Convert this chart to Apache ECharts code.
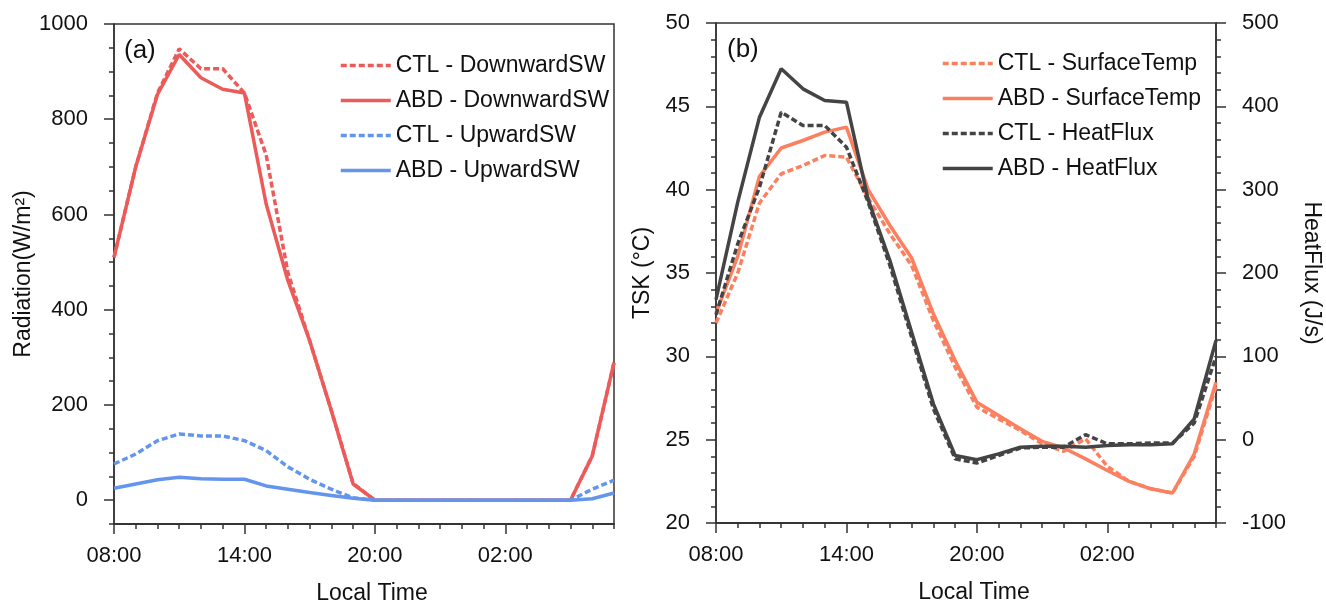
<!DOCTYPE html>
<html>
<head>
<meta charset="utf-8">
<script src="https://cdn.jsdelivr.net/npm/echarts@6/dist/echarts.min.js"></script>
<style>
html,body{margin:0;padding:0;background:#fff;}
#c{width:1326px;height:602px;}
</style>
</head>
<body>
<div id="c"></div>
<script>
// ---- data ----
var hours = ['08:00','09:00','10:00','11:00','12:00','13:00','14:00','15:00','16:00','17:00','18:00','19:00',
             '20:00','21:00','22:00','23:00','00:00','01:00','02:00','03:00','04:00','05:00','06:00','07:00'];
var radTicks = [0, 200, 400, 600, 800, 1000];

var ctlDown = [510, 700, 855, 948, 906, 906, 855, 725, 478, 335, 188, 35, 0, 0, 0, 0, 0, 0, 0, 0, 0, 0, 93, 289];
var abdDown = [510, 700, 852, 936, 887, 863, 855, 622, 461, 335, 188, 34, 0, 0, 0, 0, 0, 0, 0, 0, 0, 0, 93, 289];
var ctlUp   = [76, 97, 125, 139, 135, 135, 125, 104, 70, 44, 23, 5, 0, 0, 0, 0, 0, 0, 0, 0, 0, 0, 23, 42];
var abdUp   = [25, 34, 43, 48, 45, 44, 44, 30, 23, 16, 10, 4, 0, 0, 0, 0, 0, 0, 0, 0, 0, 0, 3, 15];

var ctlTsk = [32.0, 35.0, 39.2, 40.95, 41.45, 42.05, 41.95, 39.5, 37.35, 35.45, 32.15, 29.35,
              26.95, 26.25, 25.55, 24.75, 24.3, 25.05, 23.4, 22.5, 22.05, 21.8, 24.0, 28.2];
var abdTsk = [32.6, 36.0, 40.8, 42.5, 42.95, 43.45, 43.75, 40.0, 37.85, 35.9, 32.55, 29.75,
              27.25, 26.45, 25.65, 24.9, 24.5, 23.85, 23.15, 22.5, 22.05, 21.8, 24.15, 28.45];
var ctlHf  = [150, 235, 303, 393, 377, 377, 351, 285, 209, 123, 37, -23,
              -28, -19, -10, -9, -9, 6, -5, -5, -4, -4, 20, 100];
var abdHf  = [168, 285, 387, 445, 421, 407, 405, 288, 215, 129, 43, -19,
              -24, -17, -9, -8, -8, -9, -7, -6, -6, -5, 25, 119];

// ---- style ----
var FONT = '"Liberation Sans", Arial, sans-serif';
var AX = '#333';
var RED = '#EC5A5A', BLUE = '#6495ED', ORANGE = '#FB8060', DARK = '#444444';
var DASH = [6, 3];
function plain(v) { return String(v); }

function xMinor(grid) {
  return {
    type: 'category', gridIndex: grid, data: hours, boundaryGap: false, position: 'bottom',
    axisLine: {show: true, onZero: false, lineStyle: {color: AX, width: 1.5}},
    axisTick: {show: true, interval: 0, length: 5, lineStyle: {color: AX, width: 1.5}},
    axisLabel: {show: false}, splitLine: {show: false}
  };
}
function xMajor(grid) {
  return {
    type: 'category', gridIndex: grid, data: hours, boundaryGap: false, position: 'bottom',
    name: 'Local Time', nameLocation: 'middle', nameGap: 58,
    nameTextStyle: {fontFamily: FONT, fontSize: 23, color: '#111', padding: [0, 0, 0, 16]},
    axisLine: {show: true, onZero: false, lineStyle: {color: AX, width: 1.5}},
    axisTick: {show: true, interval: function (i) { return i % 6 === 0; }, length: 10, lineStyle: {color: AX, width: 1.5}},
    axisLabel: {show: true, interval: function (i) { return i % 6 === 0; }, margin: 21,
                fontFamily: FONT, fontSize: 22, color: '#111'},
    splitLine: {show: false}
  };
}

function line(name, data, color, dashed, xi, yi) {
  return {
    name: name, type: 'line', data: data, xAxisIndex: xi, yAxisIndex: yi,
    symbol: 'none', showSymbol: false, silent: true, animation: false,
    lineStyle: {color: color, width: 3.5, type: dashed ? DASH : 'solid'},
    itemStyle: {color: color}
  };
}

var legendBase = {
  orient: 'vertical', itemWidth: 50, itemHeight: 14, itemGap: 12,
  itemStyle: {opacity: 0},
  lineStyle: {width: 3.5},
  textStyle: {fontFamily: FONT, fontSize: 23, color: '#111', padding: [0, 0, 0, 0]}
};

var chart = echarts.init(document.getElementById('c'), null, {renderer: 'canvas'});
chart.setOption({
  animation: false,
  backgroundColor: '#fff',
  title: [
    {text: '(a)', left: 119, top: 33, textStyle: {fontFamily: FONT, fontSize: 26, fontWeight: 'normal', color: '#111'}},
    {text: '(b)', left: 722, top: 32, textStyle: {fontFamily: FONT, fontSize: 26, fontWeight: 'normal', color: '#111'}}
  ],
  grid: [
    {left: 114, top: 24, width: 500, height: 500, outerBoundsMode: 'none', containLabel: false,
     show: true, borderColor: AX, borderWidth: 1.5, backgroundColor: 'transparent'},
    {left: 716, top: 23, width: 500, height: 500, outerBoundsMode: 'none', containLabel: false,
     show: true, borderColor: AX, borderWidth: 1.5, backgroundColor: 'transparent'}
  ],
  legend: [
    Object.assign({}, legendBase, {
      left: 334, top: 49,
      data: ['CTL - DownwardSW', 'ABD - DownwardSW', 'CTL - UpwardSW', 'ABD - UpwardSW']
    }),
    Object.assign({}, legendBase, {
      left: 936, top: 47,
      data: ['CTL - SurfaceTemp', 'ABD - SurfaceTemp', 'CTL - HeatFlux', 'ABD - HeatFlux']
    })
  ],
  xAxis: [xMinor(0), xMajor(0), xMinor(1), xMajor(1)],
  yAxis: [
    {
      type: 'value', gridIndex: 0, position: 'left', min: -50, max: 1000,
      name: 'Radiation(W/m²)', nameLocation: 'middle', nameGap: 74,
      nameTextStyle: {fontFamily: FONT, fontSize: 23, color: '#111'},
      axisLine: {show: true, onZero: false, lineStyle: {color: AX, width: 1.5}},
      axisTick: {show: true, length: 10, customValues: radTicks, lineStyle: {color: AX, width: 1.5}},
      axisLabel: {show: true, customValues: radTicks, formatter: plain, margin: 26, fontFamily: FONT, fontSize: 22, color: '#111'},
      splitLine: {show: false}
    },
    {
      type: 'value', gridIndex: 0, position: 'left', min: -50, max: 1000, interval: 50,
      axisLine: {show: false, onZero: false},
      axisTick: {show: true, length: 5, lineStyle: {color: AX, width: 1.5}},
      axisLabel: {show: false}, splitLine: {show: false}
    },
    {
      type: 'value', gridIndex: 1, position: 'left', min: 20, max: 50, interval: 5,
      name: 'TSK (°C)', nameLocation: 'middle', nameGap: 62,
      nameTextStyle: {fontFamily: FONT, fontSize: 23, color: '#111'},
      axisLine: {show: true, onZero: false, lineStyle: {color: AX, width: 1.5}},
      axisTick: {show: true, length: 10, lineStyle: {color: AX, width: 1.5}},
      minorTick: {show: true, splitNumber: 5, length: 5, lineStyle: {color: AX, width: 1.5}},
      axisLabel: {show: true, formatter: plain, margin: 26, fontFamily: FONT, fontSize: 22, color: '#111'},
      splitLine: {show: false}, minorSplitLine: {show: false}
    },
    {
      type: 'value', gridIndex: 1, position: 'right', min: -100, max: 500, interval: 100,
      name: 'HeatFlux (J/s)', nameLocation: 'middle', nameGap: 84, nameRotate: -90,
      nameTextStyle: {fontFamily: FONT, fontSize: 23, color: '#111'},
      axisLine: {show: true, onZero: false, lineStyle: {color: AX, width: 1.5}},
      axisTick: {show: true, length: 10, lineStyle: {color: AX, width: 1.5}},
      minorTick: {show: true, splitNumber: 5, length: 5, lineStyle: {color: AX, width: 1.5}},
      axisLabel: {show: true, formatter: plain, margin: 26, fontFamily: FONT, fontSize: 22, color: '#111'},
      splitLine: {show: false}, minorSplitLine: {show: false}
    }
  ],
  series: [
    line('CTL - DownwardSW', ctlDown, RED, true, 1, 0),
    line('ABD - DownwardSW', abdDown, RED, false, 1, 0),
    line('CTL - UpwardSW', ctlUp, BLUE, true, 1, 0),
    line('ABD - UpwardSW', abdUp, BLUE, false, 1, 0),
    line('CTL - SurfaceTemp', ctlTsk, ORANGE, true, 3, 2),
    line('ABD - SurfaceTemp', abdTsk, ORANGE, false, 3, 2),
    line('CTL - HeatFlux', ctlHf, DARK, true, 3, 3),
    line('ABD - HeatFlux', abdHf, DARK, false, 3, 3)
  ]
});
</script>
</body>
</html>
